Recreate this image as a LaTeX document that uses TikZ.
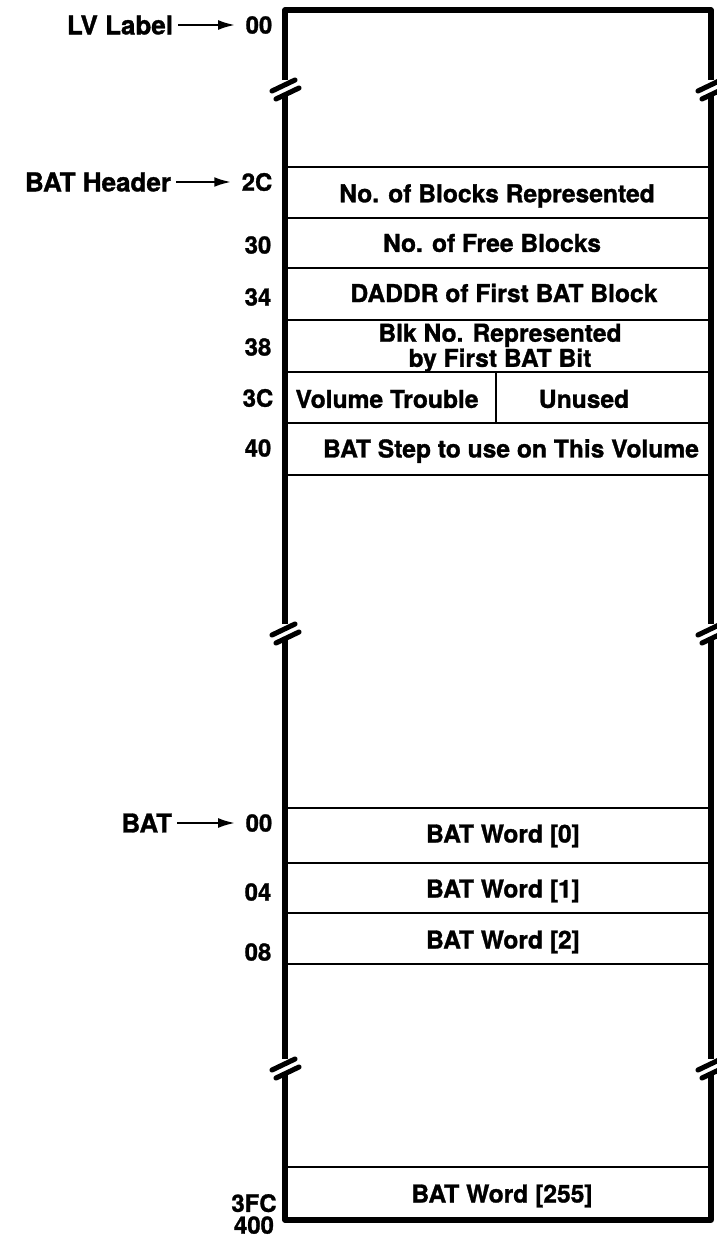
\documentclass[tikz,border=0pt]{standalone}
\usepackage{fontspec}
\setmainfont{TeX Gyre Heros}[BoldFeatures={FakeBold=1.2}]
\usetikzlibrary{arrows.meta}
\tikzset{
  rim/.style={line width=3.6pt, line join=round},
  sep/.style={line width=1.9pt},
  brkmark/.style={line width=3.6pt, line cap=round},
  ptr/.style={line width=1.6pt, -{Latex[length=12pt,width=7pt]}, shorten >=4pt},
  celltxt/.style={font=\fontsize{17.5}{14.7}\selectfont\bfseries, align=center, inner sep=0pt},
  addr/.style={font=\fontsize{17}{15}\selectfont\bfseries},
  lab/.style={font=\fontsize{18.5}{20}\selectfont\bfseries, anchor=east},
}
\begin{document}
\begin{tikzpicture}[x=0.025cm,y=-0.025cm]
\useasboundingbox (0,0) rectangle (717,1239);
\draw[rim] (285,80) -- (285,10) -- (711,10) -- (711,80);
\draw[rim] (285,96) -- (285,624) (711,96) -- (711,624);
\draw[rim] (285,640) -- (285,1059) (711,640) -- (711,1059);
\draw[rim] (285,1075) -- (285,1220) -- (711,1220) -- (711,1075);
\foreach \bx in {285,711}{
  \foreach \by in {88,632,1067}{
    \draw[brkmark] (\bx-13,\by+3) -- (\bx+10,\by-8);
    \draw[brkmark] (\bx-9,\by+11) -- (\bx+14,\by);
  }
}
\foreach \ry in {167,218,268,320,372,423,475,808,863,913,964,1167}{
  \draw[sep] (285,\ry) -- (711,\ry);
}
\draw[sep] (496,372) -- (496,423);

\node[celltxt] (nblk) at (497,196) {No. of Blocks Represented};
\node[celltxt] (nfree) at (492,243) {No. of Free Blocks};
\node[celltxt] (daddr) at (504,293) {DADDR of First BAT Block};
\node[celltxt] (blkno) at (500,348) {Blk No. Represented\\by First BAT Bit};
\node[celltxt] (voltr) at (387,399) {Volume Trouble};
\node[celltxt] (unused) at (584,399) {Unused};
\node[celltxt] (bstep) at (511,451) {BAT Step to use on This Volume};
\node[celltxt] (w0) at (503,836) {BAT Word [0]};
\node[celltxt] (w1) at (503,891) {BAT Word [1]};
\node[celltxt] (w2) at (503,942) {BAT Word [2]};
\node[celltxt] (w255) at (502,1196) {BAT Word [255]};

\node[lab] (lvlab) at (178,25) {LV Label};
\node[lab] (hdrlab) at (176,182) {BAT Header};
\node[lab] (batlab) at (177,823) {BAT};
\node[addr] (a00) at (259,25) {00};
\node[addr] (a2C) at (257,182) {2C};
\node[addr] (a30) at (258,245) {30};
\node[addr] (a34) at (258,297) {34};
\node[addr] (a38) at (258,347) {38};
\node[addr] (a3C) at (258,398) {3C};
\node[addr] (a40) at (258,448) {40};
\node[addr] (b00) at (259,823) {00};
\node[addr] (b04) at (258,892) {04};
\node[addr] (b08) at (258,952) {08};
\node[addr, align=center, inner sep=1pt, font=\fontsize{17}{15.5}\selectfont\bfseries] (bend) at (254,1214) {3FC\\400};
\draw[ptr] (lvlab) -- (a00);
\draw[ptr] (hdrlab) -- (a2C);
\draw[ptr] (batlab) -- (b00);
\end{tikzpicture}
\end{document}
